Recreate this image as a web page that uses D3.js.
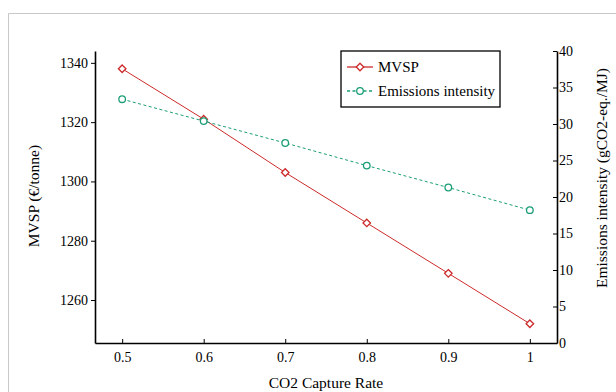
<!DOCTYPE html>
<html>
<head>
<meta charset="utf-8">
<script src="https://cdn.jsdelivr.net/npm/d3@7"></script>
<style>
  body { margin: 0; background: #fff; }
  svg text { font-family: "Liberation Serif", "DejaVu Serif", serif; fill: #000; }
</style>
</head>
<body>
<div id="chart"></div>
<script>
const captureRates = [0.5, 0.6, 0.7, 0.8, 0.9, 1.0];
const mvsp = [1338, 1321, 1303, 1286, 1269, 1252];
const emissions = [33.4, 30.4, 27.4, 24.3, 21.3, 18.2];
const xTicks = [0.5, 0.6, 0.7, 0.8, 0.9, 1];
const leftTicks = [1260, 1280, 1300, 1320, 1340];
const rightTicks = [0, 5, 10, 15, 20, 25, 30, 35, 40];

const width = 616, height = 392;
const red = "#cc2a2a", green = "#1b9e77";

const svg = d3.select("#chart")
    .append("svg")
    .attr("width", width)
    .attr("height", height);

// figure frame (light gray)
svg.append("path")
    .attr("d", `M8.5,${height} V13.5 H${width}`)
    .attr("fill", "none")
    .attr("stroke", "#c8c8c8")
    .attr("stroke-width", 1);

const plotL = 95, plotR = 557, plotT = 51, plotB = 343;

const x = d3.scaleLinear().domain([0.4667, 1.0333]).range([plotL, plotR]);
const yL = d3.scaleLinear().domain([1245.5, 1344]).range([plotB, plotT]);
const yR = d3.scaleLinear().domain([0, 40]).range([plotB, plotT]);

// axes
const xAxis = svg.append("g")
    .attr("transform", `translate(0,${plotB})`)
    .call(d3.axisBottom(x).tickValues(xTicks).tickFormat(d3.format("")).tickSizeInner(-4).tickSizeOuter(0).tickPadding(9));
const lAxis = svg.append("g")
    .attr("transform", `translate(${plotL},0)`)
    .call(d3.axisLeft(yL).tickValues(leftTicks).tickFormat(d3.format("d")).tickSizeInner(4).tickSizeOuter(0).tickPadding(3));
const rAxis = svg.append("g")
    .attr("transform", `translate(${plotR},0)`)
    .call(d3.axisRight(yR).tickValues(rightTicks).tickSizeInner(-4).tickSizeOuter(0).tickPadding(6));

[xAxis, lAxis, rAxis].forEach(g => {
    g.select(".domain").attr("stroke", "#000").attr("stroke-width", 1.6);
    g.selectAll(".tick line").attr("stroke", "#000").attr("stroke-width", 1);
    g.selectAll(".tick text")
        .style("font-family", "'Liberation Serif', serif")
        .style("font-size", "14px");
});
rAxis.selectAll(".tick text").attr("x", 2);

// axis titles
svg.append("text")
    .attr("x", (plotL + plotR) / 2).attr("y", 388)
    .attr("text-anchor", "middle")
    .style("font-size", "15.5px")
    .text("CO2 Capture Rate");
svg.append("text")
    .attr("transform", "translate(39,196) rotate(-90)")
    .attr("text-anchor", "middle")
    .style("font-size", "15.5px")
    .text("MVSP (€/tonne)");
svg.append("text")
    .attr("transform", "translate(607,178) rotate(-90)")
    .attr("text-anchor", "middle")
    .style("font-size", "15.5px")
    .text("Emissions intensity (gCO2-eq./MJ)");

const diamond = d3.symbol().type(d3.symbolDiamond2).size(36);

// MVSP series
svg.append("path")
    .datum(mvsp)
    .attr("fill", "none")
    .attr("stroke", red)
    .attr("stroke-width", 1)
    .attr("d", d3.line().x((d, i) => x(captureRates[i])).y(d => yL(d)));
svg.selectAll(".mvsp-pt").data(mvsp).enter()
    .append("path")
    .attr("class", "mvsp-pt")
    .attr("d", diamond)
    .attr("transform", (d, i) => `translate(${x(captureRates[i])},${yL(d)})`)
    .attr("fill", "#fff")
    .attr("stroke", red)
    .attr("stroke-width", 1.3);

// Emissions series
svg.append("path")
    .datum(emissions)
    .attr("fill", "none")
    .attr("stroke", green)
    .attr("stroke-width", 1)
    .attr("stroke-dasharray", "3,2.5")
    .attr("d", d3.line().x((d, i) => x(captureRates[i])).y(d => yR(d)));
svg.selectAll(".em-pt").data(emissions).enter()
    .append("circle")
    .attr("class", "em-pt")
    .attr("cx", (d, i) => x(captureRates[i]))
    .attr("cy", d => yR(d))
    .attr("r", 3.3)
    .attr("fill", "#fff")
    .attr("stroke", green)
    .attr("stroke-width", 1.3);

// legend
const legend = svg.append("g").attr("transform", "translate(341,51)");
legend.append("rect")
    .attr("width", 159).attr("height", 56)
    .attr("fill", "#fff")
    .attr("stroke", "#000")
    .attr("stroke-width", 1.3);
const items = [
    { label: "MVSP", color: red, dash: null, marker: "diamond", y: 16 },
    { label: "Emissions intensity", color: green, dash: "3,2.5", marker: "circle", y: 40 }
];
items.forEach(it => {
    legend.append("line")
        .attr("x1", 6).attr("x2", 32).attr("y1", it.y).attr("y2", it.y)
        .attr("stroke", it.color).attr("stroke-width", 1.3)
        .attr("stroke-dasharray", it.dash);
    if (it.marker === "diamond") {
        legend.append("path").attr("d", diamond)
            .attr("transform", `translate(19,${it.y})`)
            .attr("fill", "#fff").attr("stroke", it.color).attr("stroke-width", 1.3);
    } else {
        legend.append("circle").attr("cx", 19).attr("cy", it.y).attr("r", 3.3)
            .attr("fill", "#fff").attr("stroke", it.color).attr("stroke-width", 1.3);
    }
    legend.append("text")
        .attr("x", 37).attr("y", it.y).attr("dy", "0.35em")
        .style("font-size", "15px")
        .text(it.label);
});
</script>
</body>
</html>
